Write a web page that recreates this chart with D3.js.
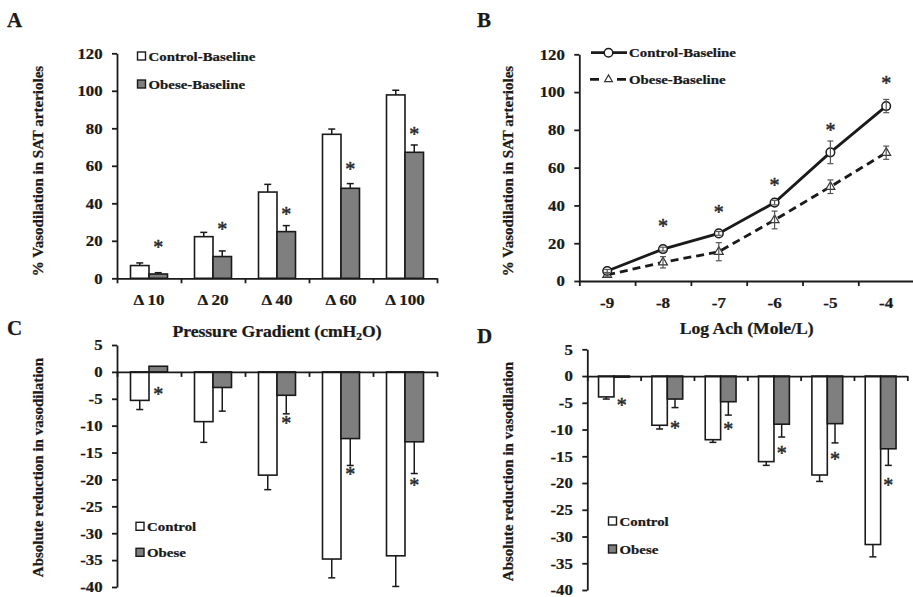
<!DOCTYPE html>
<html>
<head>
<meta charset="utf-8">
<script src="https://cdnjs.cloudflare.com/ajax/libs/d3/7.8.5/d3.min.js"></script>
<style>
body { margin: 0; background: #fff; }
svg { display: block; }
text { font-family: 'Liberation Serif', 'Times New Roman', serif; fill: #1a1a1a; stroke: #1a1a1a; stroke-width: 0.25px; }
</style>
</head>
<body>
<script>
var GRIS = "#7f7f7f", TINTA = "#1a1a1a", ESTIRAR = 1.1;

var presiones = ["Δ 10", "Δ 20", "Δ 40", "Δ 60", "Δ 100"];
var dosisAch = ["-9", "-8", "-7", "-6", "-5", "-4"];
var ticksVasodilatacion = [0, 20, 40, 60, 80, 100, 120];
var ticksReduccion = [5, 0, -5, -10, -15, -20, -25, -30, -35, -40];

// A: vasodilatacion por gradiente de presion
var controlPresion = [6.8, 22.2, 46.0, 76.8, 97.8];
var controlPresionErr = [1.4, 2.3, 4.1, 2.8, 2.5];
var obesoPresion = [2.3, 11.6, 24.9, 48.0, 67.2];
var obesoPresionErr = [0.7, 3.0, 3.2, 2.5, 3.9];
var asteriscosPresion = [18.0, 27.5, 35.5, 59.5, 78.5];

// B: curva dosis-respuesta a acetilcolina
var controlAch = [5.3, 16.9, 25.2, 41.5, 68.1, 92.6];
var controlAchErr = [0.8, 1.0, 1.0, 1.2, 6.0, 3.5];
var obesoAch = [3.2, 9.9, 15.5, 32.3, 49.9, 67.9];
var obesoAchErr = [1.0, 3.0, 4.8, 4.7, 3.6, 3.5];
var asteriscosAch = [null, 30.5, 37.9, 52.0, 81.1, 105.9];

// C: reduccion absoluta (presion)
var reduccionControlPresion = [-5.3, -9.25, -19.2, -34.8, -34.2];
var reduccionControlPresionErr = [1.7, 3.85, 2.7, 3.5, 5.7];
var reduccionObesoPresion = [1.05, -2.9, -4.35, -12.4, -13.0];
var reduccionObesoPresionErr = [0, 4.4, 3.45, 5.0, 5.9];
var asteriscosReduccionPresion = [-3.7, null, -9.1, -18.6, -20.5];

// D: reduccion absoluta (Ach)
var reduccionControlAch = [-3.9, -9.2, -11.9, -16.0, -18.5, -31.5];
var reduccionControlAchErr = [0.4, 0.7, 0.5, 0.7, 1.2, 2.3];
var reduccionObesoAch = [-0.2, -4.3, -4.8, -9.0, -8.9, -13.6];
var reduccionObesoAchErr = [0, 1.6, 2.5, 2.4, 3.6, 3.1];
var asteriscosReduccionAch = [-4.9, -9.3, -9.5, -13.9, -15.1, -20.0];

// los textos horizontales salen algo ensanchados
function estirarTexto(sel) {
    sel.each(function () {
        var t = d3.select(this);
        var x = +t.attr("x") || 0, y = +t.attr("y") || 0;
        t.attr("x", 0).attr("y", 0).attr("transform", `translate(${x},${y}) scale(${ESTIRAR},1)`);
    });
}

function texto(g, x, y, cadena, tam, estirado) {
    var t = g.append("text").attr("font-size", tam).attr("font-weight", "bold").text(cadena);
    if (estirado) {
        t.attr("transform", `translate(${x},${y}) scale(${ESTIRAR},1)`);
    } else {
        t.attr("x", x).attr("y", y);
    }
    return t;
}

function estiloEje(g, tam) {
    g.style("color", TINTA).attr("font-size", tam).attr("font-weight", "bold");
    g.selectAll("path, line").attr("stroke-width", 1.8);
    estirarTexto(g.selectAll("text"));
}

function ejeY(g, y, x0, ticks) {
    var eje = g.append("g").attr("transform", `translate(${x0},0)`)
        .call(d3.axisLeft(y).tickValues(ticks).tickSize(5).tickPadding(9.5).tickSizeOuter(0).tickFormat(function (d) { return String(d); }));
    estiloEje(eje, 15.2);
}

// marcas de categoria en los limites de cada grupo
function ejeXLimites(g, n, x0, x1, yPos) {
    var xBordes = d3.scaleLinear().domain([0, n]).range([x0, x1]);
    var eje = g.append("g").attr("transform", `translate(0,${yPos})`)
        .call(d3.axisBottom(xBordes).tickValues(d3.range(n + 1)).tickSize(5).tickSizeOuter(0).tickFormat(""));
    estiloEje(eje, 15);
}

function ejeXEtiquetas(g, x, yPos) {
    var eje = g.append("g").attr("transform", `translate(0,${yPos})`)
        .call(d3.axisBottom(x).tickSize(0).tickPadding(16));
    eje.select(".domain").remove();
    estiloEje(eje, 15.5);
}

function asteriscos(g, datos, xf, y) {
    g.selectAll("text.asterisco").data(datos.filter(function (d) { return d.v != null; })).enter()
        .append("text").attr("class", "asterisco")
        .attr("x", xf).attr("y", function (d) { return y(d.v); }).attr("dy", "0.47em")
        .attr("text-anchor", "middle").attr("font-size", 20)
        .style("fill", "#2a2a2a").style("stroke", "#2a2a2a").style("stroke-width", "0.5px")
        .text("*");
}

function dibujarBarras(svg, p) {
    var g = svg.append("g");
    var x = d3.scaleBand().domain(p.categorias).range([p.x0, p.x1]);
    var xSub = d3.scaleBand().domain(["control", "obeso"]).range([0, x.bandwidth()]).paddingOuter(0.73);
    var y = d3.scaleLinear().domain(p.dominio).range(p.rango);
    var datos = d3.merge(p.categorias.map(function (c, i) {
        return [
            { cat: c, serie: "control", v: p.control[i], err: p.controlErr[i] },
            { cat: c, serie: "obeso", v: p.obeso[i], err: p.obesoErr[i] }
        ];
    }));
    var centro = function (d) { return x(d.cat) + xSub(d.serie) + xSub.bandwidth() / 2; };
    var fin = function (d) { return y(d.v + (d.v >= 0 ? d.err : -d.err)); };

    g.selectAll("rect.barra").data(datos).enter().append("rect").attr("class", "barra")
        .attr("x", function (d) { return x(d.cat) + xSub(d.serie); })
        .attr("width", xSub.bandwidth())
        .attr("y", function (d) { return y(Math.max(0, d.v)); })
        .attr("height", function (d) { return Math.abs(y(d.v) - y(0)); })
        .attr("fill", function (d) { return d.serie == "control" ? "#fff" : GRIS; })
        .attr("stroke", TINTA).attr("stroke-width", 1.6);

    // barras de error, solo hacia fuera de la barra
    var conErr = datos.filter(function (d) { return d.err > 0; });
    g.selectAll("line.err").data(conErr).enter().append("line").attr("class", "err")
        .attr("x1", centro).attr("x2", centro)
        .attr("y1", function (d) { return y(d.v); }).attr("y2", fin)
        .attr("stroke", TINTA).attr("stroke-width", 1.5);
    g.selectAll("line.tope").data(conErr).enter().append("line").attr("class", "tope")
        .attr("x1", function (d) { return centro(d) - 3.5; }).attr("x2", function (d) { return centro(d) + 3.5; })
        .attr("y1", fin).attr("y2", fin)
        .attr("stroke", TINTA).attr("stroke-width", 1.5);

    ejeY(g, y, p.x0, p.ticks);
    ejeXLimites(g, p.categorias.length, p.x0, p.x1, y(0));
    if (p.conEtiquetas) {
        ejeXEtiquetas(g, x, y(0));
    }

    var estrellas = p.categorias.map(function (c, i) { return { cat: c, serie: "obeso", v: p.asteriscos[i] }; });
    asteriscos(g, estrellas, centro, y);

    // leyenda
    var ley = g.append("g");
    p.leyenda.forEach(function (nombre, i) {
        var cy = p.leyY + i * p.leySep;
        ley.append("rect").attr("x", p.leyX).attr("y", cy - 4).attr("width", 8).attr("height", 8)
            .attr("fill", i == 0 ? "#fff" : GRIS).attr("stroke", TINTA).attr("stroke-width", 1.4);
        texto(ley, p.leyX + 11, cy + 4.6, nombre, 13.5, true);
    });
    return g;
}

function dibujarLineas(svg) {
    var g = svg.append("g");
    var x0 = 579.3, x1 = 914.1;
    var x = d3.scaleBand().domain(dosisAch).range([x0, x1]);
    var y = d3.scaleLinear().domain([0, 120]).range([281, 54.3]);
    var cx = function (d) { return x(d.dosis) + x.bandwidth() / 2; };
    var serie = function (valores, errores) {
        return dosisAch.map(function (c, i) { return { dosis: c, v: valores[i], err: errores[i] }; });
    };
    var control = serie(controlAch, controlAchErr), obeso = serie(obesoAch, obesoAchErr);
    var linea = d3.line().x(cx).y(function (d) { return y(d.v); });

    ejeY(g, y, x0, ticksVasodilatacion);
    ejeXLimites(g, dosisAch.length, x0, x1, y(0));
    ejeXEtiquetas(g, x, y(0));

    g.append("path").datum(obeso).attr("d", linea).attr("fill", "none")
        .attr("stroke", TINTA).attr("stroke-width", 2.8).attr("stroke-dasharray", "8,5");
    g.append("path").datum(control).attr("d", linea).attr("fill", "none")
        .attr("stroke", TINTA).attr("stroke-width", 2.8);

    g.selectAll("path.triangulo").data(obeso).enter().append("path").attr("class", "triangulo")
        .attr("d", d3.symbol(d3.symbolTriangle, 34))
        .attr("transform", function (d) { return `translate(${cx(d)},${y(d.v)})`; })
        .attr("fill", "#fff").attr("stroke", "#333").attr("stroke-width", 1.2);
    g.selectAll("circle.punto").data(control).enter().append("circle").attr("class", "punto")
        .attr("cx", cx).attr("cy", function (d) { return y(d.v); }).attr("r", 4.3)
        .attr("fill", "#fff").attr("stroke", TINTA).attr("stroke-width", 1.5);

    // barras de error simetricas
    var todos = control.concat(obeso);
    g.selectAll("line.err").data(todos).enter().append("line").attr("class", "err")
        .attr("x1", cx).attr("x2", cx)
        .attr("y1", function (d) { return y(d.v + d.err); }).attr("y2", function (d) { return y(d.v - d.err); })
        .attr("stroke", "#555").attr("stroke-width", 1.2);
    [1, -1].forEach(function (s) {
        g.selectAll("line.tope" + s).data(todos).enter().append("line")
            .attr("x1", function (d) { return cx(d) - 3; }).attr("x2", function (d) { return cx(d) + 3; })
            .attr("y1", function (d) { return y(d.v + s * d.err); }).attr("y2", function (d) { return y(d.v + s * d.err); })
            .attr("stroke", "#555").attr("stroke-width", 1.2);
    });

    asteriscos(g, dosisAch.map(function (c, i) { return { dosis: c, v: asteriscosAch[i] }; }), cx, y);

    // leyenda
    var ley = g.append("g");
    ley.append("line").attr("x1", 591).attr("x2", 627).attr("y1", 52.7).attr("y2", 52.7)
        .attr("stroke", TINTA).attr("stroke-width", 2.8);
    ley.append("circle").attr("cx", 608.5).attr("cy", 52.7).attr("r", 4.3)
        .attr("fill", "#fff").attr("stroke", TINTA).attr("stroke-width", 1.5);
    ley.append("line").attr("x1", 590).attr("x2", 627).attr("y1", 79.3).attr("y2", 79.3)
        .attr("stroke", TINTA).attr("stroke-width", 2.8).attr("stroke-dasharray", "9,18");
    ley.append("path").attr("d", d3.symbol(d3.symbolTriangle, 26))
        .attr("transform", "translate(608.5,79.3)")
        .attr("fill", "#fff").attr("stroke", "#333").attr("stroke-width", 1.2);
    texto(ley, 629, 57.3, "Control-Baseline", 13.5, true);
    texto(ley, 629, 83.9, "Obese-Baseline", 13.5, true);
}

function tituloY(svg, x, y, cadena) {
    svg.append("text").attr("transform", `translate(${x},${y}) rotate(-90)`)
        .attr("text-anchor", "middle").attr("font-size", 15).attr("font-weight", "bold").text(cadena);
}

function dibujarArea() {
    var svg = d3.select("body").append("svg").attr("width", 913).attr("height", 597);
    svg.append("rect").attr("width", 913).attr("height", 597).attr("fill", "#fff");

    dibujarBarras(svg, {
        categorias: presiones, x0: 117, x1: 437, dominio: [0, 120], rango: [278.3, 53.3], ticks: ticksVasodilatacion,
        control: controlPresion, controlErr: controlPresionErr, obeso: obesoPresion, obesoErr: obesoPresionErr,
        asteriscos: asteriscosPresion, conEtiquetas: true,
        leyenda: ["Control-Baseline", "Obese-Baseline"], leyX: 137.5, leyY: 56, leySep: 28
    });
    dibujarLineas(svg);
    dibujarBarras(svg, {
        categorias: presiones, x0: 117, x1: 437, dominio: [5, -40], rango: [345, 587], ticks: ticksReduccion,
        control: reduccionControlPresion, controlErr: reduccionControlPresionErr,
        obeso: reduccionObesoPresion, obesoErr: reduccionObesoPresionErr,
        asteriscos: asteriscosReduccionPresion, conEtiquetas: false,
        leyenda: ["Control", "Obese"], leyX: 136, leyY: 526.3, leySep: 26
    });
    dibujarBarras(svg, {
        categorias: dosisAch, x0: 587.3, x1: 907.3, dominio: [5, -40], rango: [349.3, 590], ticks: ticksReduccion,
        control: reduccionControlAch, controlErr: reduccionControlAchErr,
        obeso: reduccionObesoAch, obesoErr: reduccionObesoAchErr,
        asteriscos: asteriscosReduccionAch, conEtiquetas: false,
        leyenda: ["Control", "Obese"], leyX: 608.5, leyY: 521, leySep: 28
    });

    // titulos de ejes
    tituloY(svg, 42.5, 171, "% Vasodilation in SAT arterioles");
    tituloY(svg, 513, 171, "% Vasodilation in SAT arterioles");
    tituloY(svg, 43, 467.5, "Absolute reduction in vasodilation");
    tituloY(svg, 513, 471.5, "Absolute reduction in vasodilation");

    var tx = svg.append("text").attr("transform", `translate(277,336.7) scale(${ESTIRAR},1)`)
        .attr("text-anchor", "middle").attr("font-size", 16).attr("font-weight", "bold");
    tx.append("tspan").text("Pressure Gradient (cmH");
    tx.append("tspan").attr("font-size", 10.5).attr("dy", 3).text("2");
    tx.append("tspan").attr("dy", -3).text("O)");
    texto(svg, 746.7, 334, "Log Ach (Mole/L)", 16, true).attr("text-anchor", "middle");

    // letras de los paneles
    texto(svg, 7, 26.7, "A", 21, false);
    texto(svg, 477, 26.7, "B", 21, false);
    texto(svg, 7, 335, "C", 21, false);
    texto(svg, 477, 343, "D", 21, false);
}

window.onload = () => {
    dibujarArea();
}
</script>
</body>
</html>
